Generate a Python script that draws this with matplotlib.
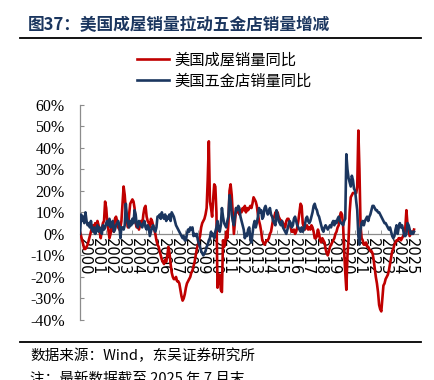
import matplotlib
matplotlib.use("Agg")
import matplotlib.pyplot as plt
import matplotlib.dates as mdates
import pandas as pd

# monthly YoY (%), 2000-01 .. 2025-07
home_sales_yoy = [
    1, -1, -3, -5, -7, -7, -6, -5, -3, -1, 1, 3,            # 2000
    4, 3, 5, 2, 6, 4, 1, -2, 2, 5, 6, 15,                   # 2001
    12, 5, 2, -2, 0, 4, 3, 1, 7, 8, 6, 3,                   # 2002
    2, 3, 6, 14, 22, 18, 11, 6, 3, 9, 14, 15,               # 2003
    16, 15, 12, 5, 3, 5, 2, 4, 6, 4, 9, 12,                 # 2004
    13, 8, 6, 5, 3, 7, 6, 4, 2, 0, -3, -5,                  # 2005
    -6, -8, -10, -12, -13, -14, -12, -13, -10, -6, -9, -14, # 2006
    -18, -20, -21, -21, -20, -22, -22, -23, -26, -29, -31, -30,  # 2007
    -28, -25, -23, -22, -21, -20, -18, -17, -15, -13, -10, -7,   # 2008
    -5, -3, -1, 3, 5, 6, 7, 9, 12, 25, 43, 15,              # 2009
    12, 8, 16, 23, 22, 10, -25, -19, -19, -26, -27, -3,     # 2010
    -6, -4, 1, -2, 5, 20, 23, 18, 9, 0, 6, 12,              # 2011
    10, 12, 9, 11, 10, 12, 11, 13, 10, 12, 11, 12,          # 2012
    13, 12, 14, 17, 16, 15, 13, 9, 6, 4, 1, -3,             # 2013
    -4, -5, -4, -3, -3, -2, 0, 1, 4, 7, 8, 10,              # 2014
    9, 10, 8, 7, 6, 6, 5, 4, 3, 6, 7, 7,                    # 2015
    5, 3, 1, 1, 2, 0, 1, 3, 6, 10, 14, 13,                  # 2016
    5, 3, 2, 3, 4, 2, 3, 2, 4, 3, 1, -2,                    # 2017
    -2, -1, 2, 0, -3, -4, -2, -3, -4, -7, -9, -10,          # 2018
    -8, -6, -5, -4, -3, -2, 0, 1, 3, 4, 8, 10,              # 2019
    9, 4, -8, -18, -26, -10, -3, 10, 17, 18, 19, 19,        # 2020
    19, 19, 22, 48, 30, 4, -2, -3, -5, -5, -4, -6,          # 2021
    -6, -7, -8, -8, -9, -12, -16, -20, -23, -27, -33, -35,  # 2022
    -36, -30, -24, -23, -21, -20, -19, -17, -14, -11, -8, -7,  # 2023
    -5, -4, -3, -3, -2, -2, -3, -2, -1, 0, 3, 11,           # 2024
    4, 2, -1, 0, 1, 0, 2,                                   # 2025
]

hardware_sales_yoy = [
    0, 9, 6, 8, 5, 10, 6, 4, 5, 3, 6, 2,       # 2000
    1, 3, 0, 2, 4, 1, 3, 2, 0, 4, 2, 3,        # 2001
    5, 6, 4, 7, 3, 5, 6, 1, 2, 4, 5, 6,        # 2002
    4, -2, 3, 3, 2, 4, 14, 8, 5, 3, 6, 4,      # 2003
    7, 5, 11, 9, 4, 3, 6, 5, 4, 3, 5, 6,       # 2004
    3, 2, 4, 3, -1, 1, 3, 4, 2, 1, 3, 8,       # 2005
    8, 9, 7, 10, 8, 7, 9, 6, 8, 7, 9, 6,       # 2006
    10, 9, 8, 6, 4, 3, 2, 1, 0, -1, -2, -1,    # 2007
    -3, -3, 0, 2, 1, 3, 2, 3, -1, 0, -1, 0,    # 2008
    -3, -5, -6, -8, -9, -10, -9, -8, -6, -5, -3, -2,  # 2009
    1, -1, 0, -2, 1, 3, 6, 2, 1, 4, 12, 8,     # 2010
    5, 4, 3, 6, 8, 18, 15, 9, 6, 4, 8, 12,     # 2011
    11, 13, 12, 8, 6, 4, 2, -2, 0, -1, 2, 3,   # 2012
    -2, -4, 0, 4, 6, 3, 5, 8, 12, 10, 11, 7,   # 2013
    8, 12, 13, 11, 9, 10, 12, 9, 8, 6, 5, 4,   # 2014
    11, 9, 6, 5, 4, 6, 3, 2, 1, 0, 2, 4,       # 2015
    6, 5, 3, 4, 7, 8, 6, 4, 3, 2, 1, 3,        # 2016
    1, 2, 4, 7, 8, 6, 5, 6, 8, 10, 13, 14,     # 2017
    12, 11, 9, 8, 6, 4, 2, 1, 3, 4, 3, 2,      # 2018
    3, 4, 3, 5, 6, 4, 6, 5, 7, 8, 6, 5,        # 2019
    5, 4, 6, 7, 37, 30, 26, 24, 22, 27, 25, 21,  # 2020
    20, 15, 11, -1, -5, 2, 5, 6, 4, 6, 7, 8,   # 2021
    6, 8, 9, 11, 13, 13, 12, 11, 11, 10, 10, 9,  # 2022
    8, 7, 6, 5, 5, 4, 3, 2, 3, 1, -1, -2,      # 2023
    -1, 2, 4, 0, 3, 5, 3, 4, 2, -1, -1, 0,     # 2024
    5, 4, 2, 0, 1, 0, 1,                       # 2025
]

months = pd.date_range("2000-01-01", periods=len(home_sales_yoy), freq="MS")
series_names = ["美国成屋销量同比", "美国五金店销量同比"]
y_ticks = list(range(-40, 61, 10))

RED = "#C00000"
NAVY = "#1B365F"
GREY = "#8C8C8C"
CJK = ["Noto Sans CJK SC", "DejaVu Sans"]
SERIF = "Liberation Serif"

fig = plt.figure(figsize=(4.34, 3.80), dpi=100)
W, H = 434, 380

# header / footer
fig.text(28 / W, 1 - 25 / H, "图37：美国成屋销量拉动五金店销量增减", family=CJK,
         fontsize=12, fontweight="bold", color=NAVY, va="center", ha="left")
fig.add_artist(plt.Line2D([20 / W, 421 / W], [1 - 38 / H] * 2, color="black", lw=1.3))
fig.add_artist(plt.Line2D([20 / W, 421 / W], [1 - 342 / H] * 2, color="black", lw=1.3))
fig.text(30 / W, 1 - 356 / H, "数据来源：Wind，东吴证券研究所", family=CJK,
         fontsize=10.5, color="black", va="center", ha="left")
fig.text(30 / W, 1 - 379 / H, "注：最新数据截至 2025 年 7 月末", family=CJK,
         fontsize=10.5, color="black", va="center", ha="left")

ax = fig.add_axes([80 / W, 1 - 320 / H, 338 / W, (320 - 104.7) / H])
ax.plot(months, home_sales_yoy, color=RED, lw=1.9, label=series_names[0], zorder=3)
ax.plot(months, hardware_sales_yoy, color=NAVY, lw=1.9, label=series_names[1], zorder=3)

ax.set_ylim(-40, 60)
ax.set_xlim(pd.Timestamp("2000-01-01"), pd.Timestamp("2025-10-20"))
ax.set_yticks(y_ticks)
ax.set_yticklabels([f"{v}%" for v in y_ticks], family=SERIF, fontsize=11.5)

# year marks at January, labels a few months in (centred under each year)
ax.xaxis.set_minor_locator(mdates.YearLocator())
ax.xaxis.set_major_locator(mdates.YearLocator(month=5, day=1))
ax.xaxis.set_major_formatter(mdates.DateFormatter("%Y"))
ax.tick_params(axis="x", which="major", length=0, pad=3, labelrotation=-90,
               labelsize=10.5)
ax.tick_params(axis="x", which="minor", direction="in", length=3, color=GREY)
for lab in ax.get_xticklabels():
    lab.set_family(SERIF)
    lab.set_va("top")

for s in ["top", "right"]:
    ax.spines[s].set_visible(False)
ax.spines["bottom"].set_position(("data", 0))
for s in ["left", "bottom"]:
    ax.spines[s].set_color(GREY)
    ax.spines[s].set_linewidth(0.9)
ax.tick_params(axis="y", direction="in", length=3, color=GREY, pad=11)

fig.legend(loc="center", bbox_to_anchor=(224 / W, 1 - 70.5 / H), frameon=False,
           prop={"family": CJK, "size": 11}, handlelength=2.1, handletextpad=0.35,
           labelspacing=0.25, borderpad=0)

fig.savefig("out.png", dpi=100)
